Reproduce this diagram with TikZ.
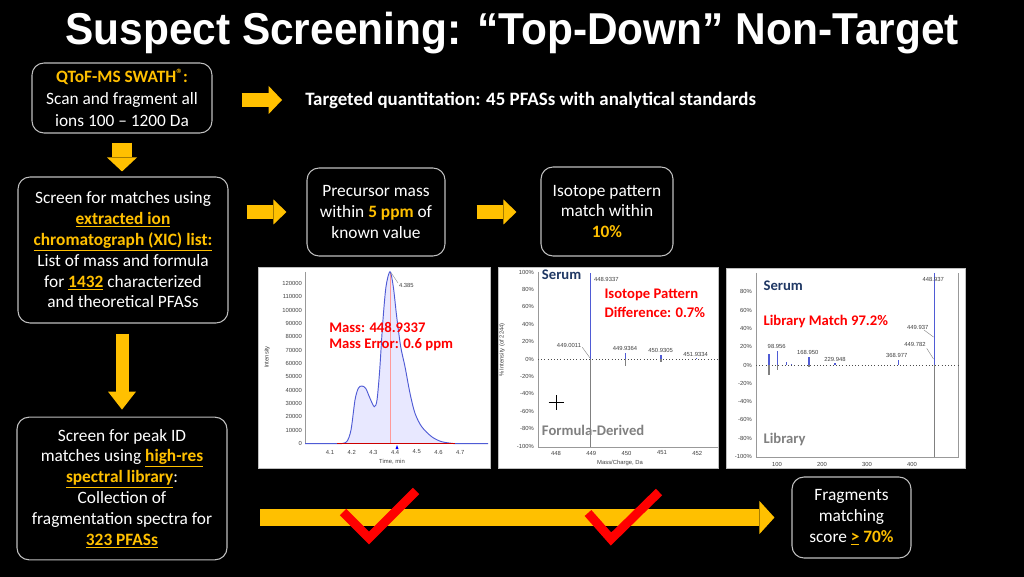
\documentclass[tikz,border=0pt]{standalone}
\usepackage{fontspec}
\setmainfont{Carlito}
\newfontfamily\titlefont[FakeStretch=0.95]{Liberation Sans}
\newfontfamily\chartfont{Liberation Sans}
\usetikzlibrary{arrows.meta,calc}
\definecolor{gold}{HTML}{FFC000}
\definecolor{navy}{HTML}{203864}
\definecolor{plotblue}{HTML}{4F5BD5}
\definecolor{framegray}{HTML}{BFBFBF}
\tikzset{
  box/.style={draw=framegray, line width=0.8pt, rounded corners=9pt, fill=black,
    text=white, align=center, inner sep=0pt, font=\fontsize{13}{15.6}\selectfont},
  flow/.style n args={3}{gold, line width=#1,
    -{Triangle[width=#2, length=#3, line width=0pt]}},
  tick/.style={font=\fontsize{4.4}{5}\chartfont, text=black!75, inner sep=0.6pt},
  tag/.style={font=\fontsize{11}{13}\bfseries, inner sep=0pt, anchor=west},
  check/.style={red, line width=6.75pt},
}
\newcommand{\hl}[1]{\textcolor{gold}{\textbf{#1}}}
\newcommand{\ul}[1]{\textcolor{gold}{\underline{\textbf{#1}}}}

\begin{document}
\begin{tikzpicture}[x=0.75pt, y=-0.75pt]
\fill[black] (0,0) rectangle (1024,577);
\useasboundingbox (0,0) rectangle (1024,577);

% title
\node[text=white, font=\titlefont\bfseries\fontsize{33.5}{36}\selectfont,
  anchor=base, inner sep=0pt] (title) at (512,45)
  {Suspect Screening: “Top-Down” Non-Target};

% boxes
\node[box, minimum width=135pt, minimum height=52.5pt, font=\fontsize{13}{16.5}\selectfont] (qtof) at (122,98)
  {\hl{QToF-MS SWATH{\fontsize{10}{10}\selectfont\raisebox{2.5pt}{®}}:}\\
   Scan and fragment all\\ ions 100 – 1200 Da};
\node[box, minimum width=157.5pt, minimum height=109.5pt] (xic) at (123,250)
  {Screen for matches using\\ \ul{extracted ion}\\
   \ul{chromatograph (XIC) list:}\\ List of mass and formula\\
   for \ul{1432} characterized\\ and theoretical PFASs};
\node[box, minimum width=157.5pt, minimum height=107pt] (lib) at (122,488.5)
  {Screen for peak ID\\ matches using \ul{high-res}\\
   \ul{spectral library}:\\ Collection of\\
   fragmentation spectra for\\ \ul{323 PFASs}};
\node[box, minimum width=103.5pt, minimum height=66pt] (prec) at (376,212)
  {Precursor mass\\ within \hl{5 ppm} of\\ known value};
\node[box, minimum width=99pt, minimum height=66.75pt] (iso) at (607,211.5)
  {Isotope pattern\\ match within\\ \hl{10\%}};
\node[box, minimum width=89.25pt, minimum height=60.75pt] (frag) at (851.5,517.5)
  {Fragments\\ matching\\ score \ul{>} \hl{70\%}};
\node[text=white, font=\fontsize{14.2}{16}\bfseries, anchor=west, inner sep=0pt]
  (targ) at (305,100) {Targeted quantitation: 45 PFASs with analytical standards};

% gold arrows
\draw[flow={10.5pt}{21pt}{10pt}, shorten <=21.75pt, shorten >=17.25pt]
  (qtof.east |- targ.west) -- (targ.west);
\draw[flow={15pt}{22.5pt}{10.5pt}, shorten <=6.75pt, shorten >=3.75pt]
  (qtof.south) -- (qtof.south |- xic.north);
\draw[flow={10.5pt}{18.75pt}{9.75pt}, shorten <=13.5pt, shorten >=15pt]
  (xic.east |- prec.west) -- (prec.west);
\draw[flow={10.5pt}{18.75pt}{9.75pt}, shorten <=23.25pt, shorten >=18pt]
  (prec.east) -- (prec.east -| iso.west);
\draw[flow={9.75pt}{21pt}{13.5pt}, shorten <=7.5pt, shorten >=5.25pt]
  (lib.north |- xic.south) -- (lib.north);
\coordinate (start) at (260,517.5);
\draw[flow={12.75pt}{24.75pt}{11.25pt}, shorten >=12.75pt] (start) -- (frag.west);

% chromatogram
\draw[framegray, fill=white] (258,267) rectangle (490,468);
\fill[blue!9] plot[smooth] coordinates {(340,443.7) (346.7,441.7) (351,430) (355,400)
  (358.3,388.3) (361.7,386) (365.7,388.3) (370,398.3) (374.3,406.7) (377,400)
  (379.7,370) (382.7,323.3) (386,286.7) (390,271.7) (393.3,286.7) (396.7,316.7)
  (400.7,346.7) (405,366.7) (410,393.3) (415,413.3) (421.7,426.7) (431.7,436.7)
  (441.7,441.7) (455,443.7)} -- cycle;
\draw[pink!80!red, line width=0.4pt] (390,443.7) -- (390,272);
\draw[gray!80, line width=0.5pt] (305,272) -- (305,443.7) -- (488,443.7);
\draw[plotblue, line width=0.7pt] (305,443.7) -- (340,443.7) plot[smooth] coordinates {(340,443.7) (346.7,441.7) (351,430) (355,400)
  (358.3,388.3) (361.7,386) (365.7,388.3) (370,398.3) (374.3,406.7) (377,400)
  (379.7,370) (382.7,323.3) (386,286.7) (390,271.7) (393.3,286.7) (396.7,316.7)
  (400.7,346.7) (405,366.7) (410,393.3) (415,413.3) (421.7,426.7) (431.7,436.7)
  (441.7,441.7) (455,443.7)} -- (488,443.7);
\draw[red!80!black, line width=0.7pt] (337,443.7) -- (455,443.7);
\fill[blue] (397,445) -- (395.5,449) -- (398.5,449) -- cycle;
\draw[gray, line width=0.3pt] (391,272.5) -- (398,283);
\node[tick, anchor=west] (apex) at (398,285) {4.385};
\foreach \v [count=\i] in {0,10000,20000,30000,40000,50000,60000,70000,80000,90000,100000,110000,120000}
  \node[tick, anchor=east] (ca\i) at (303,{443.7-(\i-1)*13.37}) {\v};
\foreach \t [count=\i] in {4.1,4.2,4.3,4.4,4.5,4.6,4.7}
  \node[tick] (cb\i) at ({330+(\i-1)*21.7},452) {\t};
\node[tick] (ctime) at (392,461.5) {Time, min};
\node[tick, rotate=90] (cint) at (267,357) {Intensity};
\node[tag, text=red] (mass) at (329,327) {Mass: 448.9337};
\node[tag, text=red] (merr) at (329,345) {Mass Error: 0.6 ppm};

% isotope pattern
\draw[framegray, fill=white] (498,267) rectangle (718,468);
\draw[gray!80, line width=0.5pt] (538,272) -- (538,447) -- (718,447);
\draw[black!70, dotted, line width=0.4pt] (538,359) -- (718,359);
\draw[gray, line width=0.5pt] (590.5,359) -- (590.5,447);
\draw[gray, line width=1.4pt] (590.5,359) -- (590.5,375);
\draw[plotblue, line width=0.5pt] (590.5,359) -- (590.5,273);
\draw[plotblue, line width=1.4pt] (590.5,359) -- (590.5,317);
\draw[gray, line width=1pt] (625.7,359) -- (625.7,366);
\draw[plotblue, line width=1pt] (625.7,359) -- (625.7,352.7);
\draw[gray, line width=1pt] (661,359) -- (661,362);
\draw[plotblue, line width=1pt] (661,359) -- (661,355);
\draw[plotblue, line width=1pt] (696.7,359) -- (696.7,357.5);
\draw[gray, line width=0.3pt] (582.3,347.3) -- (590,358);
\foreach \p [count=\i] in {100,80,60,40,20,0,-20,-40,-60,-80,-100}
  \node[tick, anchor=east] (ia\i) at (535,{359-\p*0.87}) {\p\%};
\foreach \m [count=\i] in {448,449,450,451,452}
  \node[tick] (ib\i) at ({556+(\i-1)*35.3},453) {\m};
\node[tick, anchor=west] (i1) at (593,279.3) {448.9337};
\node[tick] (i2) at (569,345) {449.0011};
\node[tick] (i3) at (625,348.3) {449.9364};
\node[tick] (i4) at (660.7,350) {450.9305};
\node[tick] (i5) at (695.7,354.3) {451.9334};
\node[tick] (imz) at (620,462.7) {Mass/Charge, Da};
\node[tick, rotate=90] (iint) at (502,350) {\% Intensity (of 2244)};
\node[tag, text=navy] (iser) at (541.7,274.5) {Serum};
\node[tag, text=red] (ipat) at (604.3,295) {Isotope Pattern};
\node[tag, text=red] (idif) at (604.3,312.7) {Difference: 0.7\%};
\node[tag, text=gray] (ifor) at (541.7,430.7) {Formula-Derived};
\draw[black, line width=0.5pt] (548.5,402.7) -- (563.5,402.7) (556,395.2) -- (556,410.2);

% library match
\draw[framegray, fill=white] (726,268) rectangle (965,468);
\draw[gray!80, line width=0.5pt] (756,273) -- (756,457) -- (958,457) -- (958,273);
\draw[black!70, dotted, line width=0.4pt] (756,365) -- (958,365);
\draw[gray, line width=0.6pt] (934.3,273) -- (934.3,457);
\draw[plotblue, line width=0.5pt] (934.3,365) -- (934.3,273);
\draw[plotblue, line width=1.2pt] (934.3,365) -- (934.3,336.7);
\draw[gray, line width=0.8pt] (769,365) -- (769,375) (777.3,365) -- (777.3,370) (809,365) -- (809,366.7);
\draw[plotblue, line width=0.8pt] (769,365) -- (769,354) (777.3,365) -- (777.3,350.7)
  (786.7,365) -- (786.7,362.3) (791.7,365) -- (791.7,363.7) (809,365) -- (809,357.3)
  (835,365) -- (835,362.7) (898.3,365) -- (898.3,360);
\draw[gray, line width=0.3pt] (924,330) -- (933.5,337) (926.7,348.3) -- (933.5,359);
\foreach \p [count=\i] in {80,60,40,20,0,-20,-40,-60,-80,-100}
  \node[tick, anchor=east] (la\i) at (753,{365-\p*0.915}) {\p\%};
\foreach \m [count=\i] in {100,200,300,400}
  \node[tick] (lb\i) at ({777+(\i-1)*45},464) {\m};
\node[tick] (l1) at (776.7,346) {98.956};
\node[tick] (l2) at (807.7,352.7) {168.950};
\node[tick] (l3) at (835,359) {229.948};
\node[tick] (l4) at (896.7,355) {368.977};
\node[tick] (l5) at (933.3,279.3) {448.937};
\node[tick] (l6) at (917.7,327.3) {449.937};
\node[tick] (l7) at (915,344.3) {449.782};
\node[tag, text=navy] (lser) at (763.3,286) {Serum};
\node[tag, text=red] (lmat) at (763.3,321.7) {Library Match 97.2\%};
\node[tag, text=gray] (llib) at (763.3,440) {Library};

% checks
\draw[check] (343,512) -- (369,538) -- (416,491);
\draw[check] (588,513) -- (611,539) -- (659,492);
\end{tikzpicture}
\end{document}
